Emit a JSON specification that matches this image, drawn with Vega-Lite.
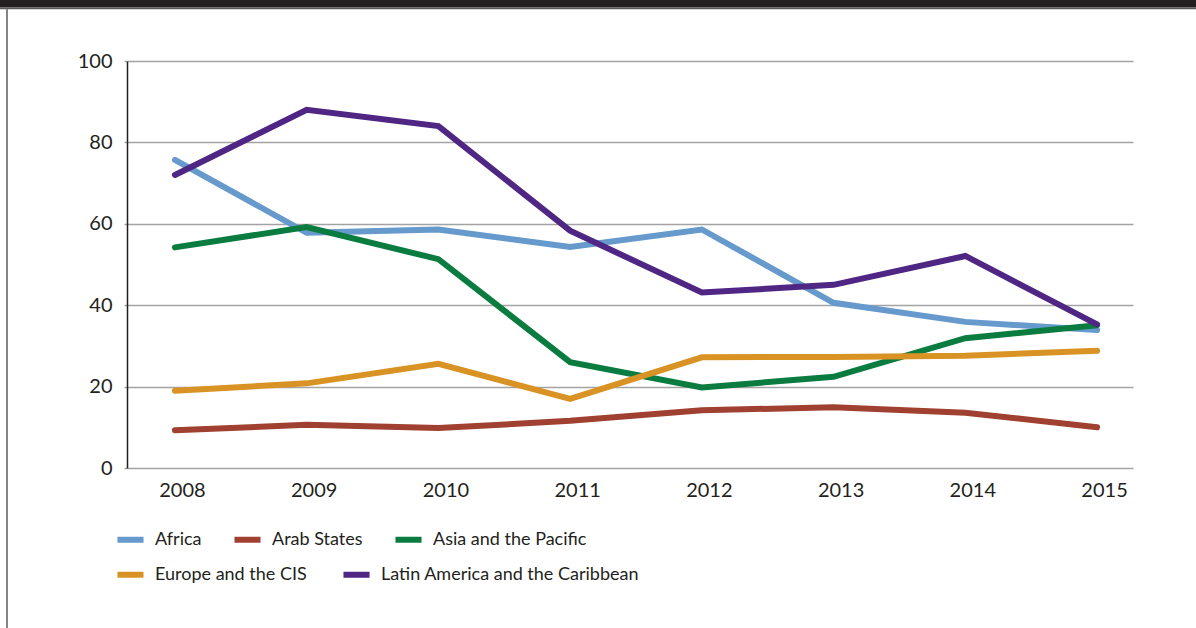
{
  "$schema": "https://vega.github.io/schema/vega-lite/v6.json",
  "autosize": {"type": "none"},
  "width": 1006,
  "height": 407,
  "padding": {"left": 127, "top": 61, "right": 63, "bottom": 160},
  "background": "white",
  "config": {
    "view": {"stroke": null},
    "font": "Lato",
    "axis": {"labelFont": "Lato", "labelFontSize": 20, "labelColor": "#231f20"},
    "legend": {"labelFont": "Lato", "labelFontSize": 18, "labelColor": "#231f20"}
  },
  "datasets": {
    "main": [
      {"year": 2008, "region": "Africa", "value": 75.7},
      {"year": 2009, "region": "Africa", "value": 57.8},
      {"year": 2010, "region": "Africa", "value": 58.6},
      {"year": 2011, "region": "Africa", "value": 54.3},
      {"year": 2012, "region": "Africa", "value": 58.6},
      {"year": 2013, "region": "Africa", "value": 40.6},
      {"year": 2014, "region": "Africa", "value": 35.9},
      {"year": 2015, "region": "Africa", "value": 33.9},
      {"year": 2008, "region": "Arab States", "value": 9.3},
      {"year": 2009, "region": "Arab States", "value": 10.6},
      {"year": 2010, "region": "Arab States", "value": 9.8},
      {"year": 2011, "region": "Arab States", "value": 11.6},
      {"year": 2012, "region": "Arab States", "value": 14.2},
      {"year": 2013, "region": "Arab States", "value": 14.9},
      {"year": 2014, "region": "Arab States", "value": 13.6},
      {"year": 2015, "region": "Arab States", "value": 10.0},
      {"year": 2008, "region": "Asia and the Pacific", "value": 54.2},
      {"year": 2009, "region": "Asia and the Pacific", "value": 59.2},
      {"year": 2010, "region": "Asia and the Pacific", "value": 51.3},
      {"year": 2011, "region": "Asia and the Pacific", "value": 26.0},
      {"year": 2012, "region": "Asia and the Pacific", "value": 19.8},
      {"year": 2013, "region": "Asia and the Pacific", "value": 22.4},
      {"year": 2014, "region": "Asia and the Pacific", "value": 31.9},
      {"year": 2015, "region": "Asia and the Pacific", "value": 35.1},
      {"year": 2008, "region": "Europe and the CIS", "value": 19.0},
      {"year": 2009, "region": "Europe and the CIS", "value": 20.8},
      {"year": 2010, "region": "Europe and the CIS", "value": 25.6},
      {"year": 2011, "region": "Europe and the CIS", "value": 17.0},
      {"year": 2012, "region": "Europe and the CIS", "value": 27.2},
      {"year": 2013, "region": "Europe and the CIS", "value": 27.3},
      {"year": 2014, "region": "Europe and the CIS", "value": 27.6},
      {"year": 2015, "region": "Europe and the CIS", "value": 28.8},
      {"year": 2008, "region": "Latin America and the Caribbean", "value": 72.0},
      {"year": 2009, "region": "Latin America and the Caribbean", "value": 88.0},
      {"year": 2010, "region": "Latin America and the Caribbean", "value": 84.0},
      {"year": 2011, "region": "Latin America and the Caribbean", "value": 58.3},
      {"year": 2012, "region": "Latin America and the Caribbean", "value": 43.1},
      {"year": 2013, "region": "Latin America and the Caribbean", "value": 45.0},
      {"year": 2014, "region": "Latin America and the Caribbean", "value": 52.1},
      {"year": 2015, "region": "Latin America and the Caribbean", "value": 35.3}
    ]
  },
  "resolve": {"scale": {"color": "independent"}, "legend": {"color": "independent"}},
  "layer": [
    {
      "data": {"values": [{}]},
      "mark": {"type": "rect", "color": "#231f20"},
      "encoding": {
        "x": {"datum": 2006.6},
        "x2": {"datum": 2015.8},
        "y": {"datum": 115.5},
        "y2": {"datum": 113.15}
      }
    },
    {
      "data": {"values": [{}]},
      "mark": {"type": "rect", "color": "#5a5a5a"},
      "encoding": {
        "x": {"datum": 2006.6},
        "x2": {"datum": 2015.8},
        "y": {"datum": 113.15},
        "y2": {"datum": 112.7}
      }
    },
    {
      "data": {"values": [{}]},
      "mark": {"type": "rule", "color": "#444444", "strokeWidth": 1.3},
      "encoding": {
        "x": {"datum": 2006.725},
        "y": {"datum": 112.7},
        "y2": {"datum": -39.5}
      }
    },
    {
      "data": {"name": "main"},
      "transform": [{"filter": {"field": "region", "oneOf": ["Africa", "Arab States", "Asia and the Pacific"]}}],
      "mark": {"type": "line", "strokeWidth": 6, "strokeCap": "round"},
      "encoding": {
        "x": {
          "field": "year", "type": "quantitative",
          "scale": {"domain": [2007.636, 2015.273], "nice": false, "zero": false},
          "axis": {
            "title": null, "values": [2008, 2009, 2010, 2011, 2012, 2013, 2014, 2015],
            "format": "d", "grid": false, "domain": false, "ticks": false,
            "labelOffset": 7, "labelPadding": 12, "labelFlush": false
          }
        },
        "y": {
          "field": "value", "type": "quantitative",
          "scale": {"domain": [0, 100], "nice": false},
          "axis": {
            "title": null, "values": [0, 20, 40, 60, 80, 100],
            "grid": true, "gridColor": "#a3a3a3", "gridWidth": 1.5,
            "domain": true, "domainColor": "#231f20", "domainWidth": 1.5,
            "ticks": true, "tickSize": 3, "tickColor": "#a3a3a3", "tickWidth": 1.5,
            "labelPadding": 12
          }
        },
        "color": {
          "field": "region", "type": "nominal",
          "scale": {
            "domain": ["Africa", "Arab States", "Asia and the Pacific"],
            "range": ["#6699cc", "#a04030", "#0a7c40"]
          },
          "legend": {
            "title": null, "orient": "none", "legendX": -13, "legendY": 462,
            "direction": "horizontal",
            "symbolType": "stroke", "symbolSize": 680, "symbolStrokeWidth": 6,
            "labelOffset": 8, "labelLimit": 0, "columnPadding": 20, "padding": 0
          }
        }
      }
    },
    {
      "data": {"name": "main"},
      "transform": [{"filter": {"field": "region", "oneOf": ["Europe and the CIS", "Latin America and the Caribbean"]}}],
      "mark": {"type": "line", "strokeWidth": 6, "strokeCap": "round"},
      "encoding": {
        "x": {"field": "year", "type": "quantitative"},
        "y": {"field": "value", "type": "quantitative"},
        "color": {
          "field": "region", "type": "nominal",
          "scale": {
            "domain": ["Europe and the CIS", "Latin America and the Caribbean"],
            "range": ["#d99325", "#4f2683"]
          },
          "legend": {
            "title": null, "orient": "none", "legendX": -13, "legendY": 497,
            "direction": "horizontal",
            "symbolType": "stroke", "symbolSize": 680, "symbolStrokeWidth": 6,
            "labelOffset": 8, "labelLimit": 0, "columnPadding": 24, "padding": 0
          }
        }
      }
    }
  ]
}
